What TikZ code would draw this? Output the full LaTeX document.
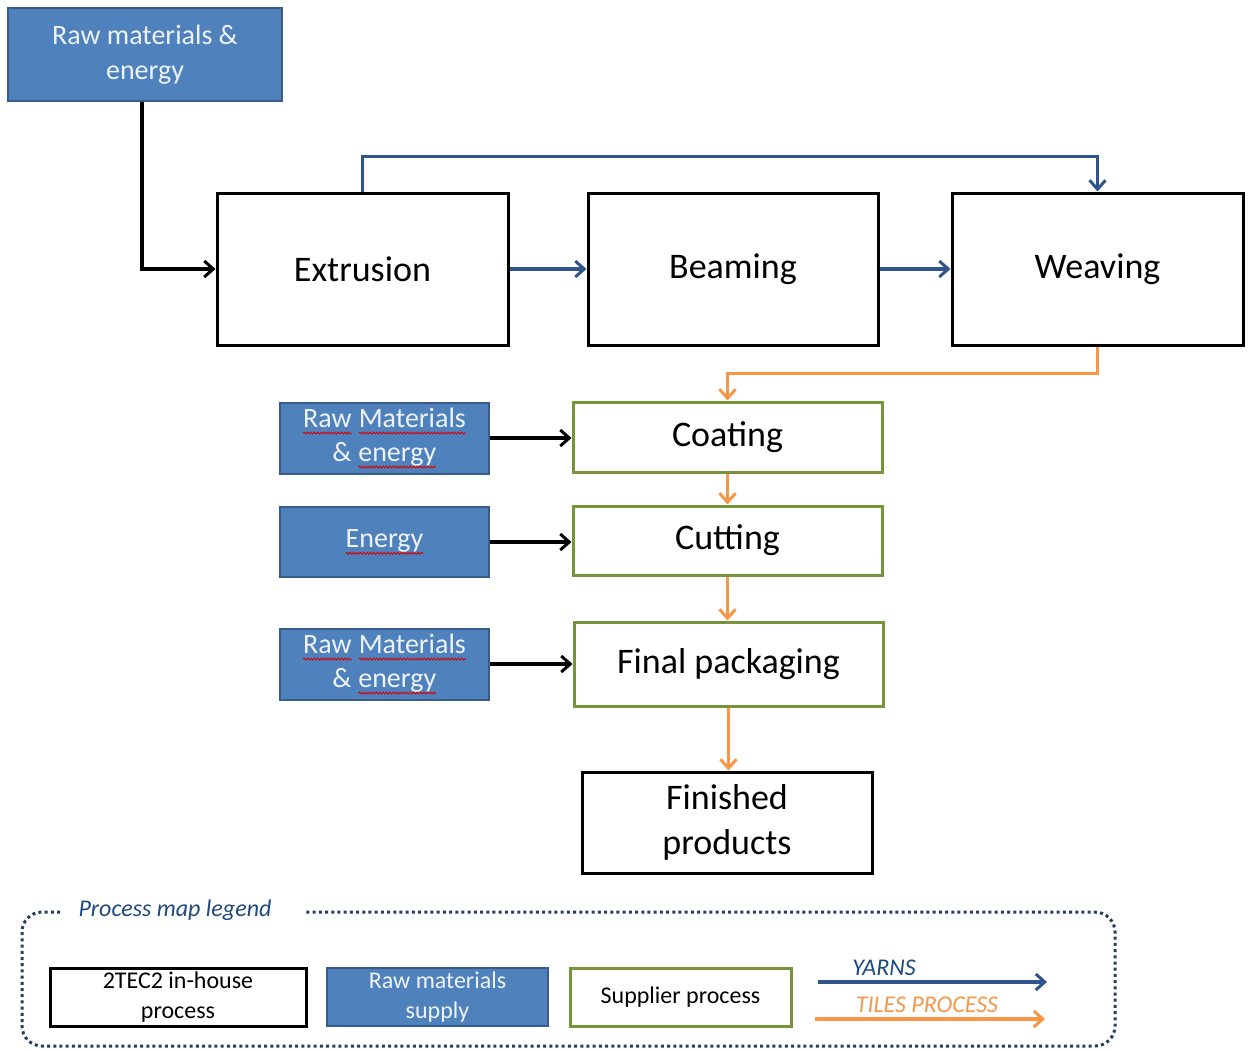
\documentclass[tikz,border=0pt]{standalone}
\usepackage{fontspec}
\setmainfont{Carlito}
\usetikzlibrary{arrows.meta,decorations.pathmorphing}
\definecolor{boxblue}{RGB}{79,129,189}
\definecolor{boxblueb}{RGB}{56,93,138}
\definecolor{yarnblue}{RGB}{47,85,140}
\definecolor{tileorange}{RGB}{247,150,70}
\definecolor{supgreen}{RGB}{119,147,60}
\definecolor{legtext}{RGB}{31,73,125}
\definecolor{bluetext}{RGB}{238,243,250}
\definecolor{legdotc}{RGB}{40,60,100}
\newcommand\spk[1]{\tikz[x=1pt,y=1pt,baseline=(spw.base)]{\node[inner sep=0pt,outer sep=0pt,minimum width=0pt,minimum height=0pt,draw=none,fill=none,text=bluetext](spw){#1};\draw[red!85!black,line width=0.45pt,decorate,decoration={snake,amplitude=0.45pt,segment length=1.7pt}]([yshift=-3pt]spw.base west)--([yshift=-3pt]spw.base east);}}
\tikzset{
  inhouse/.style={draw=black,line width=1.5pt,fill=white,align=center,inner sep=0pt},
  supply/.style={draw=boxblueb,line width=1pt,fill=boxblue,text=bluetext,align=center,inner sep=0pt},
  supplier/.style={draw=supgreen,line width=1.5pt,fill=white,align=center,inner sep=0pt},
  tip/.style={-{Straight Barb[length=4.5pt,width=8pt,line width=1.5pt]}},
  blk/.style={tip,draw=black,line width=1.7pt},
  yarn/.style={tip,draw=yarnblue,line width=1.7pt},
  tile/.style={tip,draw=tileorange,line width=1.7pt},
  legdot/.style={draw=legdotc,line width=1.5pt,dash pattern=on 1.5pt off 1.6pt,rounded corners=10pt},
}
\begin{document}
\begin{tikzpicture}[x=0.5pt,y=-0.5pt]
\useasboundingbox (0,0) rectangle (1251,1049);
% main nodes
\node[supply,minimum width=137pt,minimum height=46.5pt,font=\fontsize{14pt}{17.5pt}\selectfont] (raw) at (145,54.5) {Raw materials \&\\energy};
\node[inhouse,minimum width=145.5pt,minimum height=76pt,font=\fontsize{18pt}{22pt}\selectfont] (ext) at (362.5,269) {Extrusion};
\node[inhouse,minimum width=145pt,minimum height=76pt,font=\fontsize{18pt}{22pt}\selectfont] (beam) at (733,269) {Beaming};
\node[inhouse,minimum width=145.5pt,minimum height=76pt,font=\fontsize{18pt}{22pt}\selectfont] (weav) at (1097.5,269) {Weaving};
\node[supplier,minimum width=154.5pt,minimum height=35pt,font=\fontsize{18pt}{22pt}\selectfont] (coat) at (727.5,437) {Coating};
\node[supplier,minimum width=154.5pt,minimum height=34.5pt,font=\fontsize{18pt}{22pt}\selectfont] (cut) at (727.5,540.5) {Cutting};
\node[supplier,minimum width=154.5pt,minimum height=42pt,font=\fontsize{18pt}{22pt}\selectfont] (pack) at (728.5,664) {Final packaging};
\node[inhouse,minimum width=145pt,minimum height=50.5pt,font=\fontsize{18pt}{22.5pt}\selectfont] (done) at (727,822.5) {Finished\\products};
\node[supply,minimum width=104.5pt,minimum height=35.5pt,font=\fontsize{14pt}{17pt}\selectfont] (rm1) at (384.5,438) {\spk{Raw} \spk{Materials}\\\& \spk{energy}};
\node[supply,minimum width=104.5pt,minimum height=35pt,font=\fontsize{14pt}{17pt}\selectfont] (en) at (384.5,542) {\spk{Energy}};
\node[supply,minimum width=104.5pt,minimum height=35.5pt,font=\fontsize{14pt}{17pt}\selectfont] (rm2) at (384.5,664) {\spk{Raw} \spk{Materials}\\\& \spk{energy}};
% connectors
\draw[blk] ([xshift=-1.5pt]raw.south) |- (ext.west);
\draw[yarn] (ext.east) -- (beam.west);
\draw[yarn] (beam.east) -- (weav.west);
\draw[yarn] (ext.north) -- ++(0,-35) -| (weav.north);
\draw[tile] (weav.south) -- ++(0,27) -| (coat.north);
\draw[tile] (coat.south) -- (coat.south |- cut.north);
\draw[tile] (cut.south) -- (cut.south |- pack.north);
\draw[tile] (pack.south) -- (pack.south |- done.north);
\draw[blk] (rm1.east) -- (rm1.east -| coat.west);
\draw[blk] (en.east) -- (en.east -| cut.west);
\draw[blk] (rm2.east) -- (rm2.east -| pack.west);
% legend
\draw[legdot] (60,912) -- (22,912) -- (22,1046) -- (1115,1046) -- (1115,912) -- (305,912);
\node[font=\fontsize{12pt}{15pt}\selectfont\itshape,text=legtext,inner sep=0pt] (lt) at (175,910) {Process map legend};
\node[inhouse,minimum width=128pt,minimum height=29pt,font=\fontsize{12pt}{15pt}\selectfont] (l1) at (178,997) {2TEC2 in-house\\process};
\node[supply,minimum width=110.5pt,minimum height=29pt,font=\fontsize{12pt}{15pt}\selectfont] (l2) at (437.5,997) {Raw materials\\supply};
\node[supplier,minimum width=110.5pt,minimum height=29pt,font=\fontsize{12pt}{15pt}\selectfont] (l3) at (680.5,997) {Supplier process};
\coordinate (ya) at (818,982);
\coordinate (yb) at (1047,982);
\coordinate (ta) at (815,1019);
\coordinate (tb) at (1045,1019);
\draw[yarn] (ya) -- (yb);
\draw[tile] (ta) -- (tb);
\node[font=\fontsize{12pt}{15pt}\selectfont\itshape,text=legtext,inner sep=0pt] (ly) at (884,968) {YARNS};
\node[font=\fontsize{12pt}{15pt}\selectfont\itshape,text=tileorange,inner sep=0pt] (lti) at (927,1005) {TILES PROCESS};
\end{tikzpicture}
\end{document}
